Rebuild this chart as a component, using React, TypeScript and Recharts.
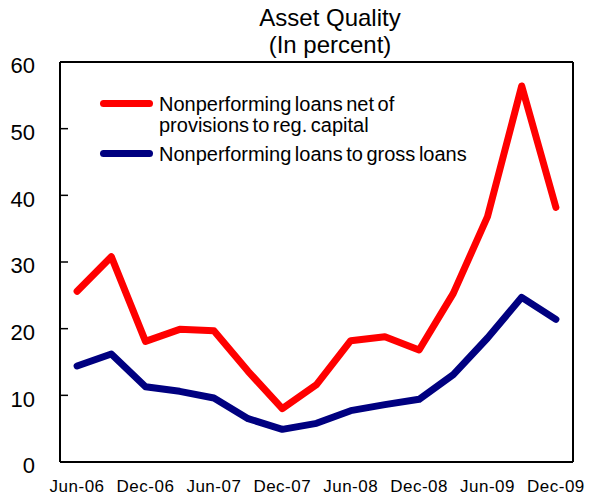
import React from "react";
import {
  LineChart,
  Line,
  XAxis,
  YAxis,
  ReferenceLine,
} from "recharts";

// quarterly observations
const months = [
  "Jun-06", "Sep-06", "Dec-06", "Mar-07", "Jun-07", "Sep-07", "Dec-07", "Mar-08",
  "Jun-08", "Sep-08", "Dec-08", "Mar-09", "Jun-09", "Sep-09", "Dec-09",
];

// NPL net of provisions to regulatory capital
const nplNetToCapital = [
  25.6, 30.8, 18.1, 19.9, 19.7, 13.6, 8.0, 11.6, 18.2, 18.8, 16.8, 25.3, 36.8, 56.4, 38.2,
];

// NPL to gross loans
const nplToGrossLoans = [
  14.4, 16.2, 11.3, 10.6, 9.6, 6.5, 4.9, 5.8, 7.7, 8.6, 9.4, 13.1, 18.6, 24.7, 21.4,
];

const yTicks = [0, 10, 20, 30, 40, 50, 60];

const series = [
  { key: "net", label: "Nonperforming loans net of\nprovisions to reg. capital", color: "#ff0000" },
  { key: "gross", label: "Nonperforming loans to gross loans", color: "#000080" },
];

const data = months.map((m, i) => ({
  month: m,
  net: nplNetToCapital[i],
  gross: nplToGrossLoans[i],
}));

const FONT = "'Liberation Sans', Arial, sans-serif";

// left axis: label outside, tick mark pointing into the plot
const LeftTick = (props: any) => {
  const { x, y, payload } = props;
  return (
    <g>
      <line x1={x} x2={x + 8} y1={y} y2={y} stroke="#000" strokeWidth={1.5} />
      <text x={x - 25} y={y + 11.4} textAnchor="end" fontSize={22} fontFamily={FONT} fill="#000">
        {payload.value}
      </text>
    </g>
  );
};

// right axis: inward tick only
const RightTick = (props: any) => {
  const { x, y } = props;
  return <line x1={x - 8} x2={x} y1={y} y2={y} stroke="#000" strokeWidth={1.5} />;
};

const BottomTick = (props: any) => {
  const { x, y, payload } = props;
  return (
    <text x={x} y={y + 29.7} textAnchor="middle" fontSize={17} letterSpacing={0.5} fontFamily={FONT} fill="#000">
      {payload.value}
    </text>
  );
};

// legend sits inside the plot, upper left
const LegendBox = () => (
  <div
    style={{
      position: "absolute",
      left: 100,
      top: 94,
      fontFamily: FONT,
      fontSize: 20,
      lineHeight: "21px",
      color: "#000",
    }}
  >
    {series.map((s) => (
      <div key={s.key} style={{ display: "flex", alignItems: "flex-start", marginBottom: 8 }}>
        <div
          style={{
            width: 53,
            height: 7,
            borderRadius: 4,
            background: s.color,
            marginTop: 6,
            marginRight: 6,
            flexShrink: 0,
          }}
        />
        <div style={{ whiteSpace: "pre-line", wordSpacing: -2 }}>{s.label}</div>
      </div>
    ))}
  </div>
);

export default function App() {
  return (
    <div style={{ position: "absolute", left: 0, top: 0, width: 589, height: 496, background: "#fff" }}>
      <div
        style={{
          position: "absolute",
          left: 230,
          top: 4,
          width: 200,
          textAlign: "center",
          fontFamily: FONT,
          fontSize: 24,
          lineHeight: "27px",
          color: "#000",
        }}
      >
        Asset Quality
        <br />
        (In percent)
      </div>
      <LineChart width={589} height={496} data={data} margin={{ top: 62, right: 0, left: 0, bottom: 0 }}>
        <XAxis
          dataKey="month"
          scale="band"
          interval={1}
          height={34}
          tickSize={0}
          tickMargin={0}
          tickLine={false}
          axisLine={{ stroke: "#000", strokeWidth: 2 }}
          tick={<BottomTick />}
        />
        <YAxis
          yAxisId="left"
          domain={[0, 60]}
          ticks={yTicks}
          width={60}
          tickSize={0}
          tickMargin={0}
          tickLine={false}
          axisLine={{ stroke: "#000", strokeWidth: 2 }}
          tick={<LeftTick />}
        />
        <YAxis
          yAxisId="right"
          orientation="right"
          domain={[0, 60]}
          ticks={yTicks}
          width={16}
          tickSize={0}
          tickMargin={0}
          tickLine={false}
          axisLine={{ stroke: "#000", strokeWidth: 2 }}
          tick={<RightTick />}
        />
        {/* top edge of the frame */}
        <ReferenceLine yAxisId="left" y={60} stroke="#000" strokeWidth={2} />
        {series.map((s) => (
          <Line
            key={s.key}
            yAxisId="left"
            dataKey={s.key}
            name={s.label}
            stroke={s.color}
            strokeWidth={7}
            strokeLinecap="round"
            strokeLinejoin="round"
            dot={false}
            activeDot={false}
            isAnimationActive={false}
          />
        ))}
      </LineChart>
      <LegendBox />
    </div>
  );
}
